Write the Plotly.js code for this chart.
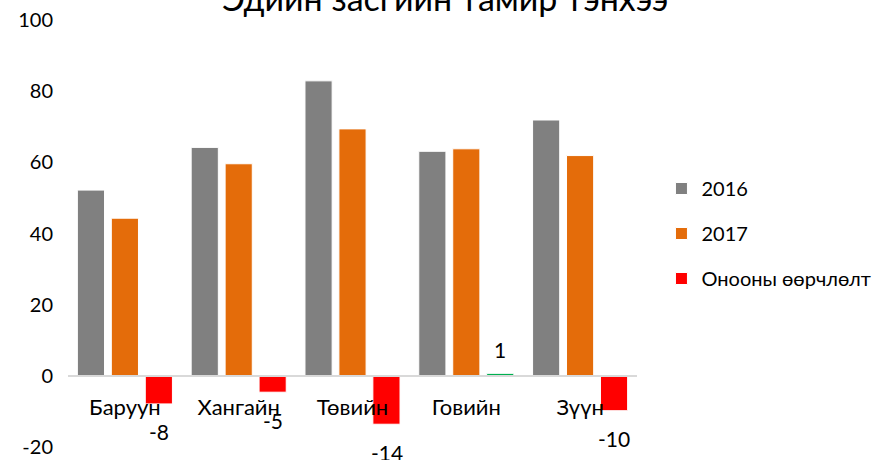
<!DOCTYPE html>
<html>
<head>
<meta charset="utf-8">
<script src="https://cdn.plot.ly/plotly-3.0.1.min.js"></script>
<style>html,body{margin:0;padding:0;background:#fff;}#chart{width:884px;height:460px;}</style>
</head>
<body>
<div id="chart"></div>
<script>
const categories = ["Баруун", "Хангайн", "Төвийн", "Говийн", "Зүүн"];
const values2016 = [52.2, 64.2, 82.9, 63.1, 71.9];
const values2017 = [44.3, 59.6, 69.4, 63.8, 61.9];
const changes = [-7.9, -4.6, -13.6, 0.7, -9.8];
const seriesNames = ["2016", "2017", "Онооны өөрчлөлт"];
const titleText = "Эдийн засгийн тамир тэнхээ";
const yTicks = [-20, 0, 20, 40, 60, 80, 100];

const FONT = "Lato, 'Open Sans', sans-serif";
const lineW = {color: "#ffffff", width: 1};

const traces = [
  {type: "bar", name: seriesNames[0], x: categories, y: values2016,
   marker: {color: "#808080", line: lineW}, legendgroup: "a", hoverinfo: "y"},
  {type: "bar", name: seriesNames[1], x: categories, y: values2017,
   marker: {color: "#e46c0a", line: lineW}, legendgroup: "b", hoverinfo: "y"},
  {type: "bar", name: seriesNames[2], x: categories, y: changes,
   marker: {color: changes.map(v => v >= 0 ? "#00b050" : "#ff0000"), line: lineW},
   legendgroup: "c", hoverinfo: "y"}
];

const annotations = changes.map((v, i) => ({
  x: categories[i], xref: "x", y: v, yref: "y",
  xshift: 34, yshift: v < 0 ? -28 : 24,
  text: String(Math.round(v)), showarrow: false,
  font: {family: FONT, size: 21, color: "#000"},
  xanchor: "center", yanchor: "middle"
}));
annotations.push({
  text: titleText, xref: "paper", x: (445 - 68) / 569, yref: "paper", y: 1,
  yshift: 0, showarrow: false, xanchor: "center", yanchor: "bottom",
  font: {family: FONT, size: 34, color: "#000"}
});

const layout = {
  width: 884, height: 460,
  margin: {l: 68, r: 247, t: 20, b: 13, autoexpand: false},
  paper_bgcolor: "#fff", plot_bgcolor: "#fff",
  font: {family: FONT, size: 20, color: "#000"},
  barmode: "group", bargap: 0.105, bargroupgap: 0.2,
  showlegend: true,
  legend: {x: 1.043, xanchor: "left", y: 0.5, yanchor: "middle",
           font: {family: FONT, size: 20, color: "#000"},
           tracegroupgap: 16, bgcolor: "rgba(0,0,0,0)"},
  xaxis: {anchor: "free", position: 71 / 427, showline: true, linecolor: "#d9d9d9",
          linewidth: 2, ticks: "", showgrid: false, zeroline: false,
          ticklabelstandoff: 12, tickfont: {family: FONT, size: 22, color: "#000"},
          fixedrange: true},
  yaxis: {range: [-20, 100], tickvals: yTicks, ticktext: yTicks.map(String),
          showgrid: false, zeroline: false,
          showline: false, ticks: "", tickfont: {family: FONT, size: 20, color: "#000"},
          ticklabelstandoff: 14, fixedrange: true},
  annotations: annotations
};

Plotly.newPlot("chart", traces, layout, {displayModeBar: false, staticPlot: true});
</script>
</body>
</html>
